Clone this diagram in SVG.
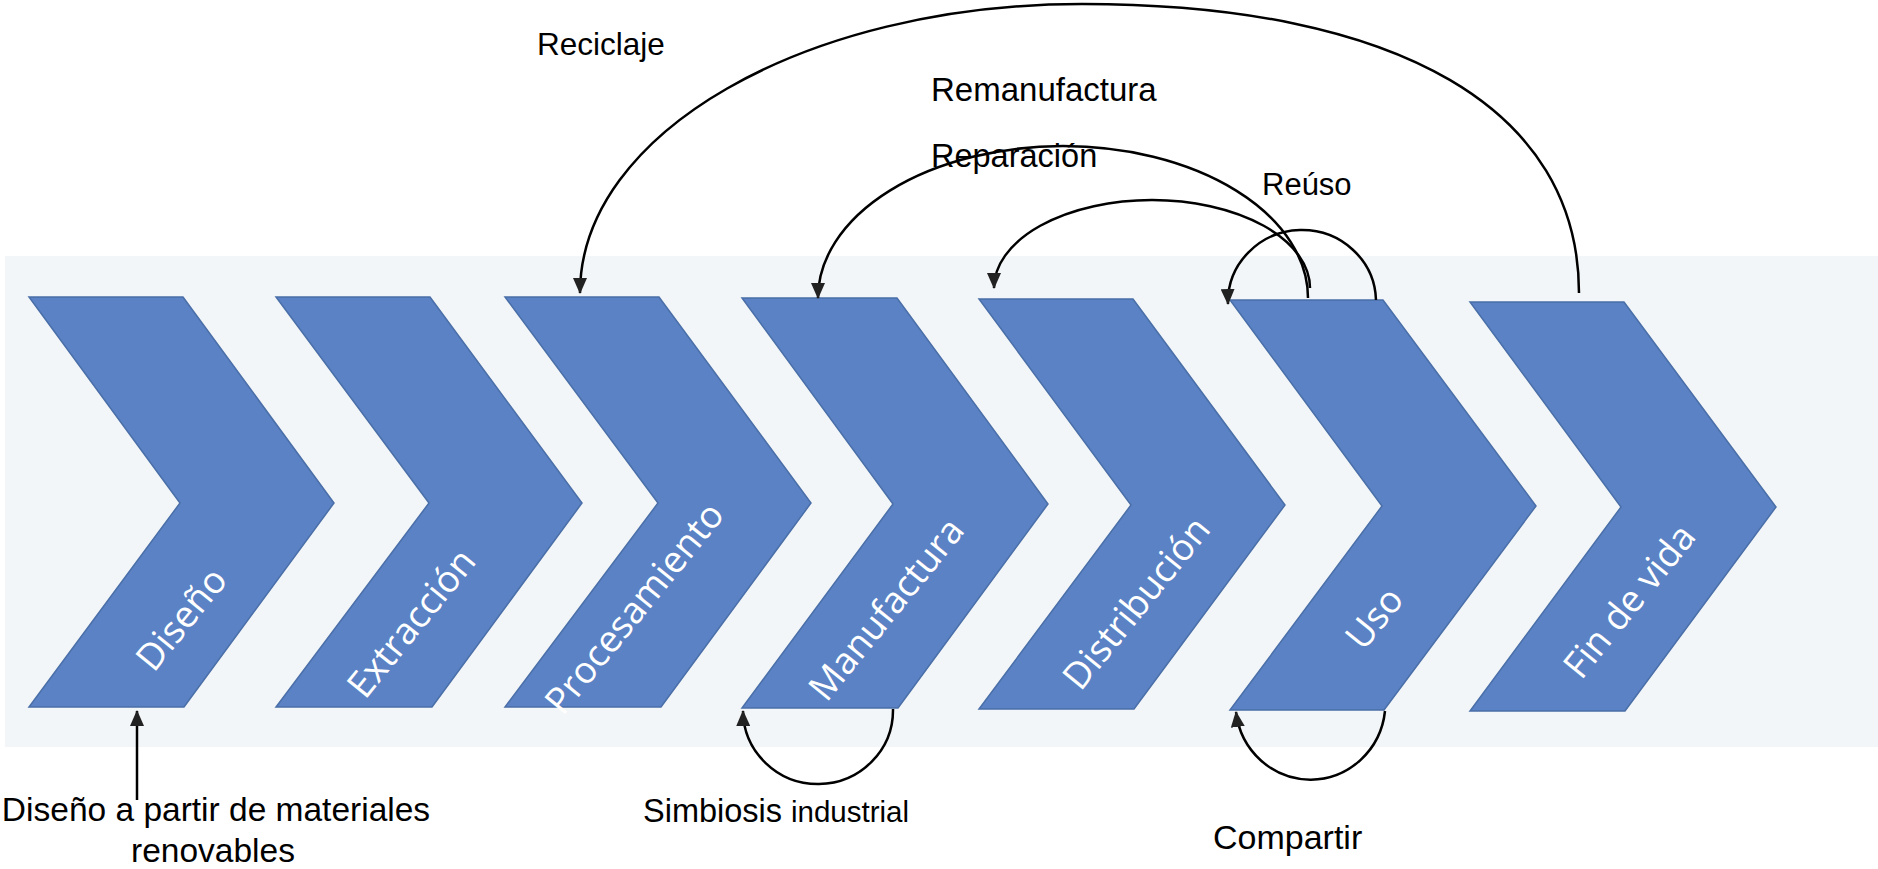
<svg xmlns="http://www.w3.org/2000/svg" width="1878" height="869" viewBox="0 0 1878 869">
<style>
.chev{fill:#5A82C4;stroke:#4A6FA8;stroke-width:1.5}
.ct{font-family:"Open Sans","Noto Sans",sans-serif;font-size:37px;fill:#FFFFFF;text-anchor:middle;dominant-baseline:central}
.lb{font-family:"Liberation Sans",Arial,sans-serif;fill:#000000}
.con{fill:none;stroke:#000000;stroke-width:2.5}
</style>
<defs>
<marker id="ah" markerUnits="userSpaceOnUse" markerWidth="16" markerHeight="14" refX="15" refY="7" orient="auto">
<path d="M0,0 L16,7 L0,14 z" fill="#222222"/>
</marker>
</defs>
<rect x="5" y="256" width="1873" height="491" fill="#F3F6F8"/>
<g id="n-diseno">
<polygon class="chev" points="29,297 183,297 334,503 184,707 29,707 180,503"/>
<text class="ct" transform="translate(180,618) rotate(-51)">Diseño</text>
</g>
<g id="n-extraccion">
<polygon class="chev" points="276,297 430,297 582,503 432,707 276,707 429,503"/>
<text class="ct" transform="translate(410,622) rotate(-51)">Extracción</text>
</g>
<g id="n-procesamiento">
<polygon class="chev" points="505,297 659,297 811,503 661,707 505,707 658,503"/>
<text class="ct" transform="translate(633,607) rotate(-51)">Procesamiento</text>
</g>
<g id="n-manufactura">
<polygon class="chev" points="742,298 897,298 1048,504 898,708 742,708 893,504"/>
<text class="ct" transform="translate(885,608) rotate(-51)">Manufactura</text>
</g>
<g id="n-distribucion">
<polygon class="chev" points="979,299 1133,299 1285,505 1134,709 979,709 1131,505"/>
<text class="ct" transform="translate(1135,602) rotate(-51)">Distribución</text>
</g>
<g id="n-uso">
<polygon class="chev" points="1230,300 1383,300 1536,506 1384,710 1230,710 1382,506"/>
<text class="ct" transform="translate(1373,617) rotate(-51)">Uso</text>
</g>
<g id="n-findevida">
<polygon class="chev" points="1470,302 1624,302 1776,507 1625,711 1470,711 1621,507"/>
<text class="ct" transform="translate(1628,600) rotate(-51)">Fin de vida</text>
</g>
<g id="connectors">
<path class="con" marker-end="url(#ah)" d="M1579,293 C1579,110 1400,4 1082,4 C805,4 580,133 580,293"/>
<path class="con" marker-end="url(#ah)" d="M1308,298 A245,152 0 0 0 818,298"/>
<path class="con" marker-end="url(#ah)" d="M1310,288 A158,88 0 0 0 994,288"/>
<path class="con" marker-end="url(#ah)" d="M1376,300 A74,72 0 0 0 1228,304"/>
<path class="con" marker-end="url(#ah)" d="M893,709 A75,74 0 0 1 743,711"/>
<path class="con" marker-end="url(#ah)" d="M1385,711 A75,77 0 0 1 1236,712"/>
<path class="con" marker-end="url(#ah)" d="M137,800 L137,711"/>
</g>
<g id="labels">
<text class="lb" x="537" y="55" font-size="31.5">Reciclaje</text>
<text class="lb" x="931" y="101" font-size="33">Remanufactura</text>
<text class="lb" x="931" y="167" font-size="32.5">Reparación</text>
<text class="lb" x="1262" y="195" font-size="31">Reúso</text>
<text class="lb" x="216" y="821" font-size="33.5" text-anchor="middle">Diseño a partir de materiales</text>
<text class="lb" x="213" y="862" font-size="33.5" text-anchor="middle">renovables</text>
<text class="lb" x="643" y="822" font-size="32.5">Simbiosis<tspan x="791" font-size="29.5">industrial</tspan></text>
<text class="lb" x="1213" y="849" font-size="34">Compartir</text>
</g>
</svg>
